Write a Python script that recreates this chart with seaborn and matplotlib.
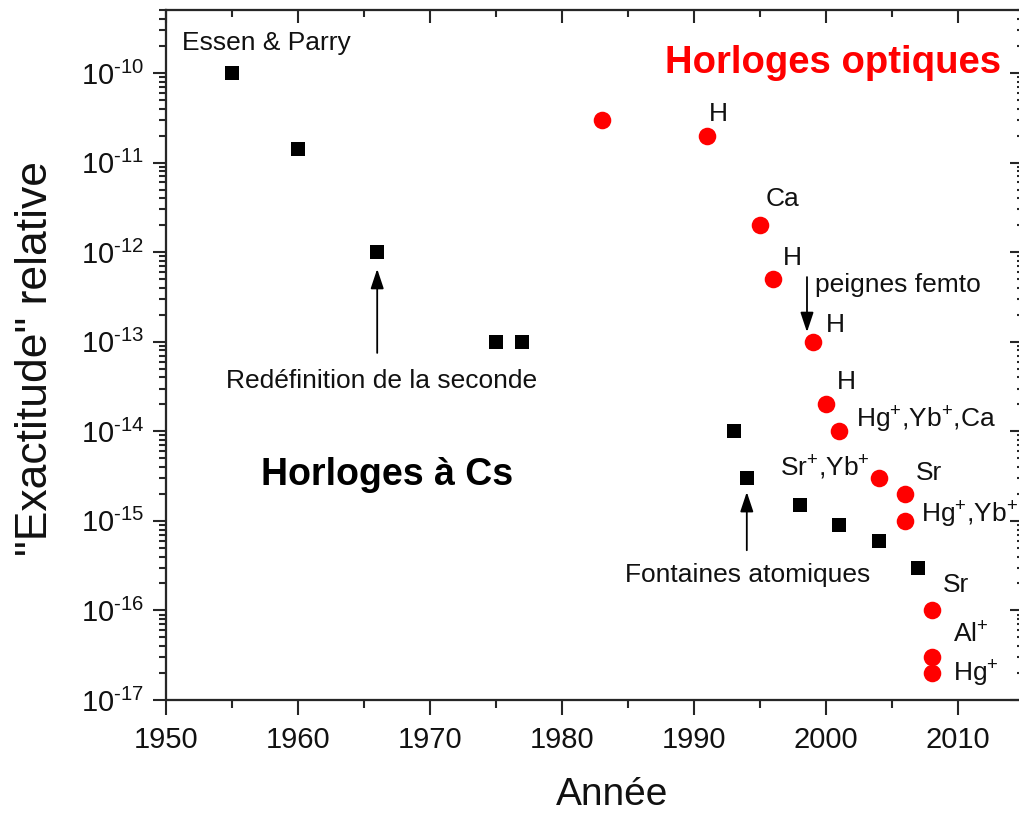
import numpy as np
import pandas as pd
import matplotlib
matplotlib.use("Agg")
import matplotlib.pyplot as plt
from matplotlib.ticker import (LogLocator, MultipleLocator, NullFormatter,
                               FixedLocator, FuncFormatter)
import seaborn as sns

# Caesium clocks: year and relative accuracy
cs_years = [1955, 1960, 1966, 1975, 1977, 1993, 1994, 1998, 2001, 2004, 2007]
cs_accuracy = [1e-10, 1.4e-11, 1e-12, 1e-13, 1e-13, 1e-14, 3e-15, 1.5e-15, 9e-16, 6e-16, 3e-16]

# Optical clocks: year, relative accuracy and species
opt_years = [1983, 1991, 1995, 1996, 1999, 2000, 2001, 2004, 2006, 2006, 2008, 2008, 2008]
opt_accuracy = [3e-11, 2e-11, 2e-12, 5e-13, 1e-13, 2e-14, 1e-14, 3e-15, 2e-15, 1e-15, 1e-16, 3e-17, 2e-17]
opt_labels = ["", "H", "Ca", "H", "H", "H", r"Hg$^{+}$,Yb$^{+}$,Ca", r"Sr$^{+}$,Yb$^{+}$",
              "Sr", r"Hg$^{+}$,Yb$^{+}$", "Sr", r"Al$^{+}$", r"Hg$^{+}$"]

x_ticks = [1950, 1960, 1970, 1980, 1990, 2000, 2010]
y_exponents = [-17, -16, -15, -14, -13, -12, -11, -10]

# label placement next to each optical point (pixels right, pixels up, alignment)
label_offsets = [(0, 0, "left"), (2, 15, "left"), (6, 19, "left"), (10, 14, "left"),
                 (13, 10, "left"), (11, 15, "left"), (17, 4, "left"), (-9, 2, "right"),
                 (11, 14, "left"), (16, -2, "left"), (11, 18, "left"), (21, 15, "left"),
                 (21, -8, "left")]

sns.set_style("ticks")
plt.rcParams["font.family"] = ["Liberation Sans", "DejaVu Sans"]
plt.rcParams["mathtext.fontset"] = "custom"
plt.rcParams["mathtext.rm"] = "Liberation Sans"
plt.rcParams["mathtext.it"] = "Liberation Sans:italic"
plt.rcParams["mathtext.bf"] = "Liberation Sans:bold"
plt.rcParams["mathtext.default"] = "regular"

cs_df = pd.DataFrame({"year": cs_years, "acc": cs_accuracy})
opt_df = pd.DataFrame({"year": opt_years, "acc": opt_accuracy})

W, H = 1019, 813
fig = plt.figure(figsize=(W / 100, H / 100), dpi=100)
ax = fig.add_axes([166 / W, 113 / H, 858 / W, 689.6 / H])
ax.set_yscale("log")

sns.scatterplot(data=cs_df, x="year", y="acc", ax=ax, marker="s", color="black",
                s=112, linewidth=0, zorder=3)
sns.scatterplot(data=opt_df, x="year", y="acc", ax=ax, marker="o", color="#ff0000",
                s=160, linewidth=0, zorder=3)

XLIM = (1950, 2015)
YLIM = (1e-17, 5e-10)
ax.set_xlim(*XLIM)
ax.set_ylim(*YLIM)

y_major = [10.0 ** e for e in y_exponents]


def power_label(v, pos):
    e = int(round(np.log10(v)))
    return "$10^{\u2010%d}$" % (-e)


ax.set_xticks(x_ticks)
ax.xaxis.set_minor_locator(MultipleLocator(5))
ax.yaxis.set_major_locator(FixedLocator(y_major))
ax.yaxis.set_major_formatter(FuncFormatter(power_label))
ax.yaxis.set_minor_locator(LogLocator(base=10, subs=np.arange(2, 10), numticks=100))
ax.yaxis.set_minor_formatter(NullFormatter())

lw = 1.5
for sp in ax.spines.values():
    sp.set_linewidth(lw)
ax.tick_params(axis="x", which="major", direction="out", length=10.5, width=lw,
               labelsize=21, pad=8, labelcolor="#111111")
ax.tick_params(axis="x", which="minor", direction="out", length=5.5, width=lw)
ax.tick_params(axis="y", which="major", direction="out", length=9.5, width=lw,
               labelsize=21, pad=6, labelcolor="#111111")
ax.tick_params(axis="y", which="minor", direction="out", length=5, width=lw)

# mirrored axes with inward ticks on the right and top
axr = ax.twinx()
axr.set_yscale("log")
axr.set_ylim(*YLIM)
axr.yaxis.set_major_locator(FixedLocator(y_major))
axr.yaxis.set_minor_locator(LogLocator(base=10, subs=np.arange(2, 10), numticks=100))
axr.yaxis.set_major_formatter(NullFormatter())
axr.yaxis.set_minor_formatter(NullFormatter())
axr.tick_params(axis="y", which="major", direction="in", length=10, width=lw, labelright=False)
axr.tick_params(axis="y", which="minor", direction="in", length=5, width=lw, labelright=False)

axt = ax.twiny()
axt.set_xlim(*XLIM)
axt.set_xticks(x_ticks)
axt.xaxis.set_minor_locator(MultipleLocator(5))
axt.xaxis.set_major_formatter(NullFormatter())
axt.tick_params(axis="x", which="major", direction="in", length=9.5, width=lw, labeltop=False)
axt.tick_params(axis="x", which="minor", direction="in", length=5, width=lw, labeltop=False)
for a in (axr, axt):
    for sp in a.spines.values():
        sp.set_linewidth(lw)

ax.set_xlabel("Année", fontsize=28, color="#111111")
ax.xaxis.label.set_va("baseline")
ax.xaxis.set_label_coords((612 - 166) / 858, -(805 - 700) / 689.6)
ax.set_ylabel('"Exactitude" relative', fontsize=32, color="#111111")
ax.yaxis.label.set_va("center")
ax.yaxis.set_label_coords((36 - 166) / 858, (700 - 359) / 689.6)

# species labels on optical clocks
for yr, acc, lab, (dx, dy, ha) in zip(opt_years, opt_accuracy, opt_labels, label_offsets):
    if lab:
        ax.annotate(lab, xy=(yr, acc), xytext=(dx, dy), textcoords="offset pixels",
                    ha=ha, va="baseline", fontsize=19, color="#111111")

# headings
ax.text(2013.3, 1e-10, "Horloges optiques", color="#ff0000", fontsize=27.5,
        fontweight="bold", ha="right", va="baseline")
ax.text(1957.2, 2.5e-15, "Horloges à Cs", color="black", fontsize=27,
        fontweight="bold", ha="left", va="baseline")
ax.text(1951.2, 1.8e-10, "Essen & Parry", fontsize=19, ha="left", va="baseline",
        color="#111111")

# annotated events
arrow = dict(arrowstyle="-|>,head_length=0.6,head_width=0.2", color="black", lw=1.3,
             shrinkA=0, shrinkB=0, mutation_scale=20)
ax.annotate("", xy=(1966, 6.5e-13), xytext=(1966, 7.5e-14), arrowprops=arrow)
ax.text(1966.3, 3.04e-14, "Redéfinition de la seconde", fontsize=19, ha="center",
        va="baseline", color="#111111")

ax.annotate("", xy=(1994, 2.1e-15), xytext=(1994, 4.7e-16), arrowprops=arrow)
ax.text(1994.1, 2.07e-16, "Fontaines atomiques", fontsize=19, ha="center",
        va="baseline", color="#111111")

ax.annotate("", xy=(1998.56, 1.28e-13), xytext=(1998.56, 5.27e-13), arrowprops=arrow)
ax.text(1999.2, 3.6e-13, "peignes femto", fontsize=19, ha="left", va="baseline",
        color="#111111")

fig.savefig("out.png", dpi=100)
